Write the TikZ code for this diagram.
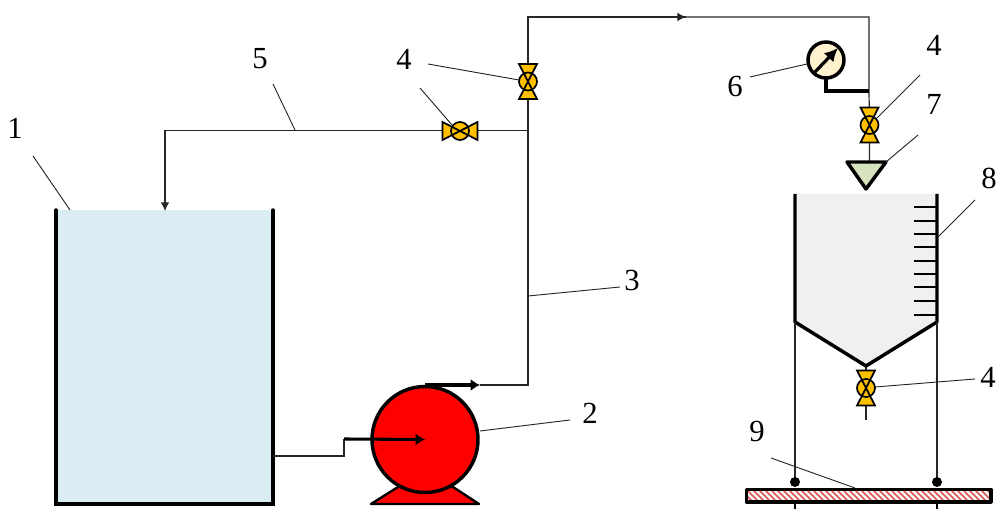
\documentclass[tikz,border=0pt]{standalone}
\usepackage{fontspec}
\setmainfont{Liberation Serif}
\usetikzlibrary{arrows.meta}
\definecolor{tankfill}{HTML}{DAEDF3}
\definecolor{valvefill}{HTML}{FFC000}
\definecolor{gaugefill}{HTML}{FFF2CC}
\definecolor{nozzlefill}{HTML}{D7E3BF}
\definecolor{vesselfill}{HTML}{F0F0F0}
\definecolor{hatchred}{HTML}{D9534F}
\tikzset{
  x=0.75pt,y=-0.75pt,
  pipe/.style={line width=0.9pt,draw=black!85},
  thickpipe/.style={line width=2.3pt,draw=black},
  wall/.style={line width=2.6pt,draw=black},
  leader/.style={line width=0.7pt,draw=black!85},
  lab/.style={font=\fontsize{23}{23}\selectfont,inner sep=0pt},
  flowtip/.style={-{Latex[length=6.5pt,width=6.5pt]}},
  bigtip/.style={-{Latex[length=7pt,width=9pt]}},
  pics/valve/.style={code={
    \fill[valvefill] (-9,-17.5) -- (9,-17.5) -- (-9,17.5) -- (9,17.5) -- cycle;
    \filldraw[fill=valvefill,draw=black,line width=1.3pt] (0,0) circle[radius=9];
    \draw[black,line width=1.3pt,line join=miter] (-9,-17.5) -- (9,-17.5) -- (-9,17.5) -- (9,17.5) -- cycle;
  }}
}
\begin{document}
\begin{tikzpicture}
\useasboundingbox (0,0) rectangle (997,509);
% named points
\coordinate (tankTL) at (56,210);
\coordinate (tankBL) at (56,504);
\coordinate (tankBR) at (273,504);
\coordinate (tankTR) at (273,210);
\coordinate (tankOut) at (273,456);
\coordinate (pumpIn) at (344,439);
\coordinate (pumpC) at (425,439.5);
\coordinate (pumpTop) at (425,385);
\coordinate (pumpOut) at (480,385);
\coordinate (riserBot) at (528,385);
\coordinate (tee) at (528,130.5);
\coordinate (riserTop) at (528,17);
\coordinate (flowMark) at (686,17);
\coordinate (dropTop) at (869,17);
\coordinate (gaugeTee) at (869,91);
\coordinate (returnEnd) at (165,211);
\coordinate (returnCorner) at (165,130.5);
\coordinate (valveA) at (528,81.5);
\coordinate (valveB) at (460,131);
\coordinate (valveC) at (869.5,125);
\coordinate (valveD) at (866,388);
\coordinate (nozzleTop) at (869.5,162);
\coordinate (vesselTip) at (866,366);
\coordinate (drain) at (866,420);
\coordinate (legLt) at (795,322);
\coordinate (legRt) at (937,322);
\coordinate (ballL) at (795,482);
\coordinate (ballR) at (937,482);
% tank
\fill[tankfill] (tankTL) rectangle (tankBR);
\draw[wall,line cap=round,line join=miter] (tankTL) -- (tankBL) -- (tankBR) -- (tankTR);
% pipes
\draw[pipe] (tankOut) -| (pumpIn);
\draw[pipe] (pumpOut) -| (riserTop) -- (flowMark);
\draw[pipe] (flowMark) -| (gaugeTee) -- (valveC) -- (nozzleTop);
\draw[pipe,flowtip] (riserTop) -- (flowMark);
\draw[pipe,flowtip] (tee) -- (returnCorner) -- (returnEnd);
\draw[pipe] (vesselTip) -- (drain);
% pump
\fill[red,draw=black,line width=1.8pt,line join=round] (371,504) -- (398,487) -- (453,487) -- (479,504) -- cycle;
\node[circle,draw=black,fill=red,line width=2.6pt,minimum size=106pt*0.75,inner sep=0pt] (pump) at (pumpC) {};
\draw[thickpipe,bigtip] (pumpIn) -- (pumpC);
\draw[thickpipe,bigtip] (pumpTop) -- (pumpOut);
% valves
\path (valveA) pic {valve};
\path (valveB) pic[rotate=90] {valve};
\path (valveC) pic {valve};
\path (valveD) pic {valve};
% gauge
\draw[line width=2.6pt,line join=miter] (826,78) |- (gaugeTee);
\node[circle,draw=black,fill=gaugefill,line width=2.6pt,minimum size=36pt*0.75,inner sep=0pt] (gauge) at (826,60) {};
\draw[line width=2.4pt,-{Latex[length=10pt,width=10pt]}] (815,72) -- (838,48);
% nozzle
\filldraw[fill=nozzlefill,draw=black,line width=2.6pt,line join=round] (847,162) -- (886,162) -- (866,189) -- cycle;
% vessel
\fill[vesselfill] (795,194) -- (937,194) -- (legRt) -- (vesselTip) -- (legLt) -- cycle;
\draw[wall,line join=round] (795,194) -- (legLt) -- (vesselTip) -- (legRt) -- (937,194);
\foreach \yy in {207,221,234,247,261,274,287,301,315}
  \draw[line width=1.6pt] (914,\yy) -- (937,\yy);
% legs and plate
\draw[pipe] (legLt) -- (ballL);
\draw[pipe] (legRt) -- (ballR);
\fill (ballL) circle[radius=5];
\fill (ballR) circle[radius=5];
\begin{scope}
  \clip (746.5,489.5) rectangle (991,502);
  \fill[white] (746.5,489.5) rectangle (991,502);
  \foreach \xx in {730,736,...,1000}
    \draw[hatchred,line width=1.3pt] (\xx,485) -- (\xx+22,507);
\end{scope}
\draw[line width=2.3pt,line join=round] (746.5,489.5) rectangle (991,502);
\draw[line width=2.2pt] (795,502) -- (795,509);
\draw[line width=2.2pt] (937,502) -- (937,509);
% labels
\node[lab] (n1) at (15,128) {1};
\node[lab] (n2) at (590,413) {2};
\node[lab] (n3) at (632,281) {3};
\node[lab] (n4a) at (404,59) {4};
\node[lab] (n4b) at (934,45) {4};
\node[lab] (n4c) at (988,377) {4};
\node[lab] (n5) at (260,59) {5};
\node[lab] (n6) at (735,87) {6};
\node[lab] (n7) at (934,104) {7};
\node[lab] (n8) at (989,178) {8};
\node[lab] (n9) at (757,431) {9};
% leaders
\coordinate (l1a) at (33,156); \coordinate (l1b) at (70,210);
\coordinate (l2a) at (570,420); \coordinate (l2b) at (480,431);
\coordinate (l3a) at (620,287); \coordinate (l3b) at (528,296);
\coordinate (l4aa) at (428,64); \coordinate (l4ab) at (519,80);
\coordinate (l4ba) at (420,88); \coordinate (l4bb) at (452,125);
\coordinate (l4ca) at (920,75); \coordinate (l4cb) at (877,118);
\coordinate (l4da) at (975,379); \coordinate (l4db) at (875,387);
\coordinate (l5a) at (273,84); \coordinate (l5b) at (295,130);
\coordinate (l6a) at (750,77); \coordinate (l6b) at (807,64);
\coordinate (l7a) at (918,135); \coordinate (l7b) at (886,162);
\coordinate (l8a) at (975,200); \coordinate (l8b) at (938,237);
\coordinate (l9a) at (771,458); \coordinate (l9b) at (855,488);
\foreach \pa/\pb in {l1a/l1b,l2a/l2b,l3a/l3b,l4aa/l4ab,l4ba/l4bb,l4ca/l4cb,l4da/l4db,l5a/l5b,l6a/l6b,l7a/l7b,l8a/l8b,l9a/l9b}
  \draw[leader] (\pa) -- (\pb);
\end{tikzpicture}
\end{document}
